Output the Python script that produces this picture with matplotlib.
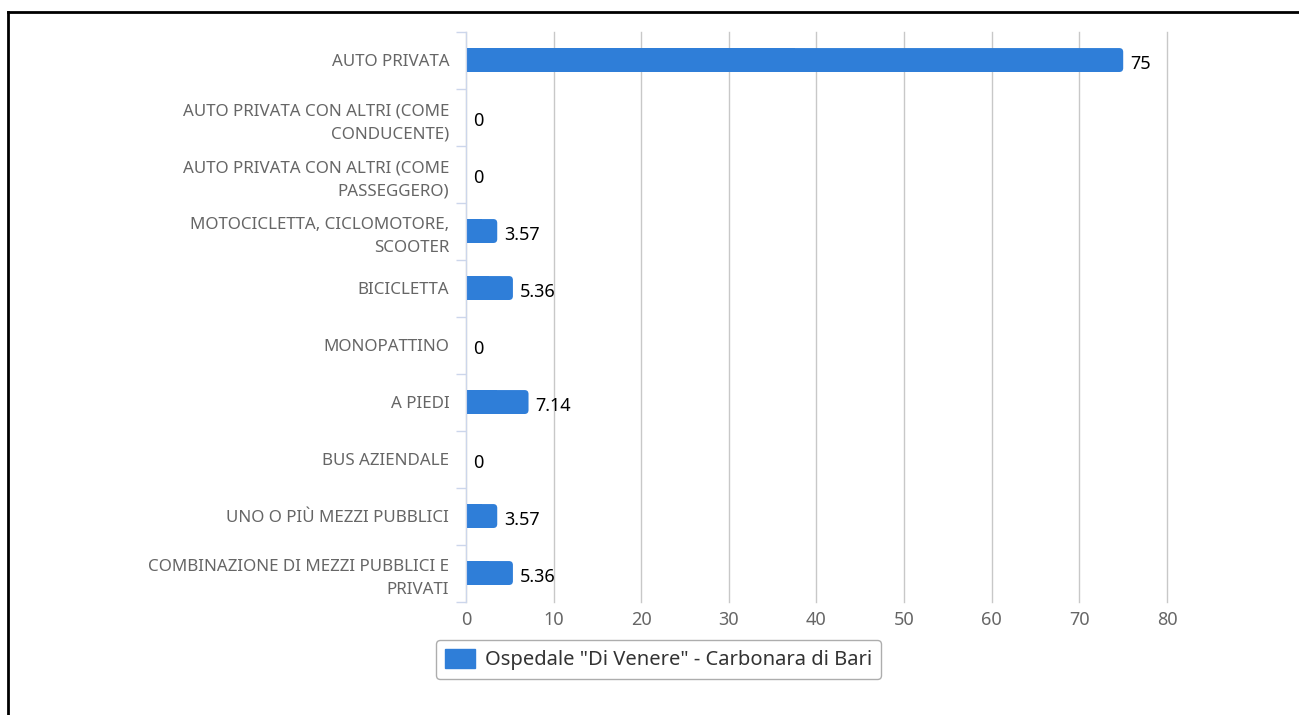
import matplotlib
matplotlib.use("Agg")
import matplotlib.pyplot as plt
from matplotlib.lines import Line2D
from matplotlib.patches import FancyBboxPatch
import numpy as np

plt.rcParams['font.family'] = ['Noto Sans', 'DejaVu Sans']

# Data
categories = [
    "AUTO PRIVATA",
    "AUTO PRIVATA CON ALTRI (COME\nCONDUCENTE)",
    "AUTO PRIVATA CON ALTRI (COME\nPASSEGGERO)",
    "MOTOCICLETTA, CICLOMOTORE,\nSCOOTER",
    "BICICLETTA",
    "MONOPATTINO",
    "A PIEDI",
    "BUS AZIENDALE",
    "UNO O PIÙ MEZZI PUBBLICI",
    "COMBINAZIONE DI MEZZI PUBBLICI E\nPRIVATI",
]
values = [75, 0, 0, 3.57, 5.36, 0, 7.14, 0, 3.57, 5.36]
value_labels = ["75", "0", "0", "3.57", "5.36", "0", "7.14", "0", "3.57", "5.36"]
series_name = 'Ospedale "Di Venere" - Carbonara di Bari'
x_ticks = [0, 10, 20, 30, 40, 50, 60, 70, 80]

bar_color = '#2f7ed8'
bar_h = 0.42

fig = plt.figure(figsize=(12.99, 7.15), dpi=100)
ax = fig.add_axes([0.3587, 0.1587, 0.5397, 0.7972])

y = np.arange(len(categories))
# square left half of each bar
ax.barh(y, np.array(values) / 2, height=bar_h, color=bar_color, zorder=3)
# rounded right end
for yi, v in zip(y, values):
    if v > 0:
        ax.add_patch(FancyBboxPatch((0, yi - bar_h / 2), v, bar_h,
                                    boxstyle='round,pad=0,rounding_size=0.45',
                                    mutation_aspect=0.155, facecolor=bar_color,
                                    edgecolor='none', zorder=3))

for yi, v, lab in zip(y, values, value_labels):
    ax.annotate(lab, (v, yi), xytext=(5, -3), textcoords='offset points',
                ha='left', va='center', fontsize=13, color='black', zorder=4)

ax.set_ylim(len(categories) - 0.5, -0.5)
ax.set_xlim(0, 80)
ax.set_xticks(x_ticks)
ax.set_yticks(y)
ax.set_yticklabels(categories, fontsize=12.2, color='#666666', linespacing=1.6)
ax.set_yticks(np.arange(len(categories) + 1) - 0.5, minor=True)

ax.tick_params(axis='y', which='major', length=0, pad=12)
ax.tick_params(axis='y', which='minor', length=7, color='#ccd6eb', width=1)
ax.tick_params(axis='x', length=0, labelsize=13, labelcolor='#666666', pad=7)

ax.grid(axis='x', color='#c8c8c8', linewidth=1, zorder=0)
for gl in ax.xaxis.get_gridlines():
    gl.set_clip_on(False)
for s in ['top', 'right', 'bottom']:
    ax.spines[s].set_visible(False)
ax.spines['left'].set_color('#ccd6eb')
ax.spines['left'].set_zorder(5)

handle = plt.Rectangle((0, 0), 1, 1, color=bar_color)
leg = fig.legend([handle], [series_name], loc='center', bbox_to_anchor=(0.507, 0.077),
                 fontsize=14.5, frameon=True, fancybox=True, edgecolor='#999999',
                 handlelength=1.5, handleheight=1.0, handletextpad=0.5, borderpad=0.45)
for t in leg.get_texts():
    t.set_color('#333333')
leg.get_frame().set_linewidth(1)

# outer border (top and left)
fig.add_artist(Line2D([8 / 1299, 1.0], [1 - 12 / 715, 1 - 12 / 715],
                      transform=fig.transFigure, color='black', linewidth=2))
fig.add_artist(Line2D([8 / 1299, 8 / 1299], [0.0, 1 - 12 / 715],
                      transform=fig.transFigure, color='black', linewidth=2))

fig.savefig('out.png', dpi=100)
